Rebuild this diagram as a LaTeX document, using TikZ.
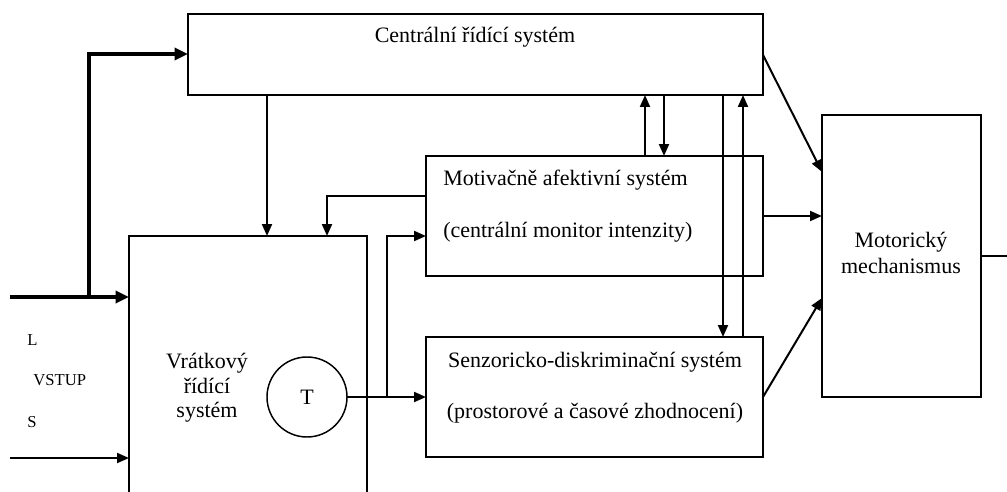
\documentclass[tikz,border=0pt]{standalone}
\usepackage{fontspec}
\setmainfont{Liberation Serif}
\usetikzlibrary{arrows.meta,fit}
\begin{document}
\begin{tikzpicture}[x=0.75pt,y=-0.75pt,
  every node/.style={font=\fontsize{16.5}{18}\selectfont},
  box/.style={draw,line width=1.1pt,inner sep=0pt,outer sep=0pt},
  arr/.style={line width=1.5pt,-{Triangle[length=9pt,width=7.5pt]}},
  thk/.style={line width=3.4pt,-{Triangle[length=10pt,width=9pt]}},
  plain/.style={line width=1.5pt},
  lbl/.style={inner sep=0pt,anchor=base}]
\useasboundingbox (0,0) rectangle (1007,492);
\clip (0,0) rectangle (1007,492);

% blocks
\node[box,fit={(188,14) (763,95)}] (cen) {};
\node[box,fit={(426,156) (763,276)}] (mot) {};
\node[box,fit={(426,337) (763,457)}] (sen) {};
\node[box,fit={(129,236) (367,520)}] (vrat) {};
\node[box,fit={(822,115) (981,397)}] (motor) {};
\node[draw,circle,line width=1.1pt,minimum size=60pt,inner sep=0pt,outer sep=0pt] (T) at (307,397) {T};

% labels
\node[lbl] (cenT) at (475,43) {Centrální řídící systém};
\node[lbl,anchor=base west] (motT1) at (443,185) {Motivačně afektivní systém};
\node[lbl,anchor=base west] (motT2) at (443,237) {(centrální monitor intenzity)};
\node[lbl] (senT1) at (595,367) {Senzoricko-diskriminační systém};
\node[lbl] (senT2) at (595,418) {(prostorové a časové zhodnocení)};
\node[lbl] (vrT1) at (207,368) {Vrátkový};
\node[lbl] (vrT2) at (207,393) {řídící};
\node[lbl] (vrT3) at (207,417) {systém};
\node[lbl] (moT1) at (901,247) {Motorický};
\node[lbl] (moT2) at (901,273) {mechanismus};
\node[lbl,anchor=base west,font=\fontsize{12.5}{14}\selectfont] (inLT) at (27,345) {L};
\node[lbl,anchor=base west,font=\fontsize{12.5}{14}\selectfont] (inVT) at (33,385) {VSTUP};
\node[lbl,anchor=base west,font=\fontsize{12.5}{14}\selectfont] (inST) at (27,427) {S};

% helper points
\coordinate (inL) at (10,297);
\coordinate (split) at (89,297);
\coordinate (upC) at (89,54);
\coordinate (inS) at (10,458);
\coordinate (xa) at (267,0);
\coordinate (fb) at (327,196);
\coordinate (br) at (387,397);
\coordinate (bu) at (387,236);
\coordinate (xm1) at (645,0);
\coordinate (xm2) at (664,0);
\coordinate (xs1) at (723,0);
\coordinate (xs2) at (743,0);
\coordinate (cOut) at (763,55);
\coordinate (mIn1) at (822,172);
\coordinate (mIn3) at (822,298);
\coordinate (out) at (1007,256);

% input connectors
\draw[thk] (inL) -- (inL -| vrat.west);
\draw[thk] (split) -- (upC) -- (upC -| cen.west);
\draw[arr] (inS) -- (inS -| vrat.west);

% central system to gate system
\draw[arr] (xa |- cen.south) -- (xa |- vrat.north);
\draw[arr] (fb -| mot.west) -- (fb) -- (fb |- vrat.north);

% gate output
\draw[arr] (T) -- (sen);
\draw[arr] (br) -- (bu) -- (bu -| mot.west);

% links with the central system
\draw[arr] (xm1 |- mot.north) -- (xm1 |- cen.south);
\draw[arr] (xm2 |- cen.south) -- (xm2 |- mot.north);
\draw[arr] (xs1 |- cen.south) -- (xs1 |- sen.north);
\draw[arr] (xs2 |- sen.north) -- (xs2 |- cen.south);

% into the motor mechanism
\draw[arr] (cOut) -- (mIn1);
\draw[arr] (mot.east) -- (mot.east -| motor.west);
\draw[arr] (sen.east) -- (mIn3);
\draw[plain] (motor.east) -- (out);
\end{tikzpicture}
\end{document}
